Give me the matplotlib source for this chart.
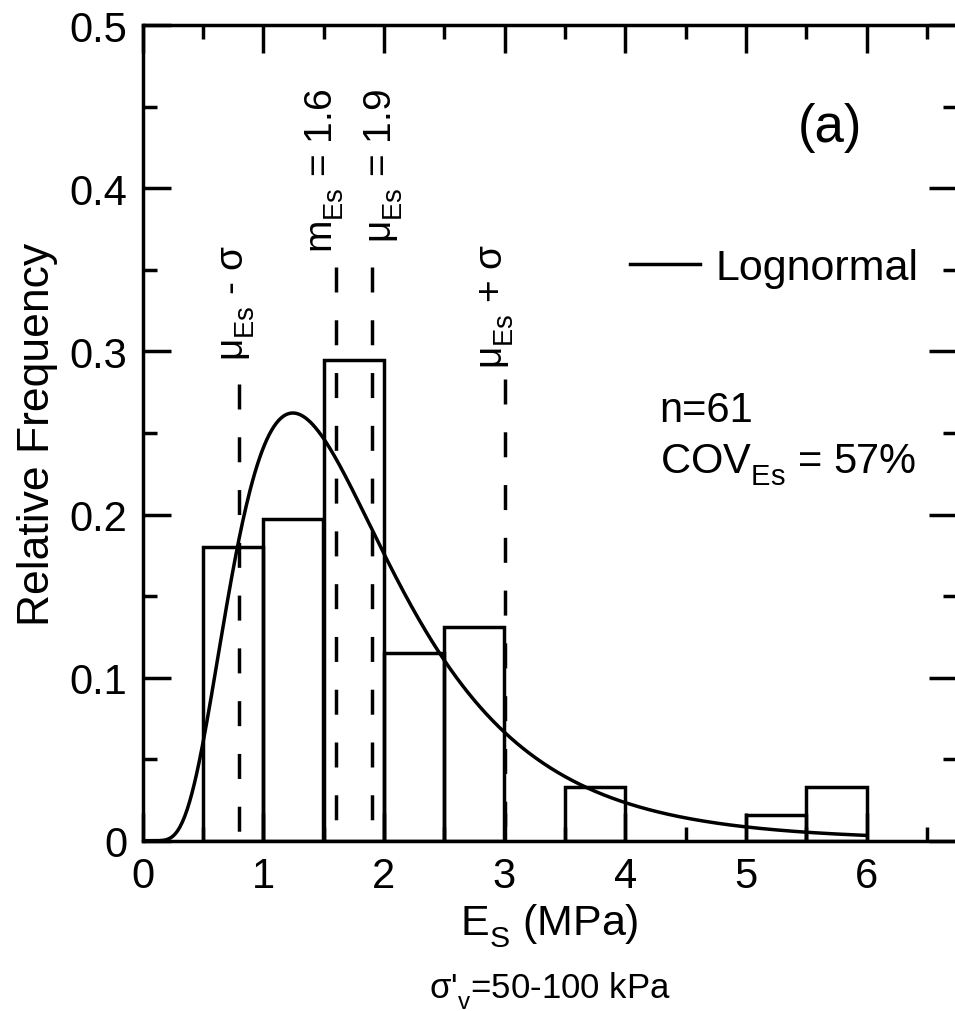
import numpy as np
import matplotlib
matplotlib.use("Agg")
import matplotlib.pyplot as plt
import matplotlib.transforms as mtransforms
from matplotlib.ticker import MultipleLocator, FuncFormatter

try:
    import matplotlib._mathtext as _mt
    _mt.FontConstantsBase.sub1 = 0.55
except Exception:
    pass

plt.rcParams['font.family'] = ['Liberation Sans', 'DejaVu Sans']

# ---- data ----
bin_left = [0.5, 1.0, 1.5, 2.0, 2.5, 3.5, 5.0, 5.5]
rel_freq = [0.180, 0.197, 0.295, 0.115, 0.131, 0.033, 0.016, 0.033]
bin_width = 0.5
mean_Es = 1.9      # MPa
cov_Es = 0.57
n_samples = 61
# vertical reference lines: (x, top of line)
ref_x = [0.8, 1.6, 1.9, 3.0]
ref_top = [0.28, 0.352, 0.352, 0.283]
ref_labels = ['μ$_\\mathregular{Es}$ - σ', 'm$_\\mathregular{Es}$ = 1.6',
              'μ$_\\mathregular{Es}$ = 1.9', 'μ$_\\mathregular{Es}$ + σ']
ref_label_x = [0.80, 1.51, 2.0, 2.94]
ref_label_y = [0.295, 0.361, 0.367, 0.29]

# lognormal fit from mean and COV
s2 = np.log(1 + cov_Es**2)
mu_ln = np.log(mean_Es) - s2 / 2
xs = np.linspace(0.01, 6.0, 600)
pdf = np.exp(-(np.log(xs) - mu_ln)**2 / (2 * s2)) / (xs * np.sqrt(2 * np.pi * s2))
curve = pdf * bin_width

fig = plt.figure(figsize=(9.55, 10.12), dpi=100)
ax = fig.add_axes([142.5/955, 1 - 841.7/1012, 814.5/955, 815.5/1012])

lw = 2.5
ax.bar(bin_left, rel_freq, width=bin_width, align='edge', fill=False,
       edgecolor='black', linewidth=lw, zorder=2)
ax.plot(xs, curve, color='black', linewidth=lw, zorder=3, label='Lognormal')

for x, top in zip(ref_x, ref_top):
    ax.plot([x, x], [top, 0], color='black', linewidth=lw,
            dashes=(18/lw, 20/lw), zorder=1)
for lab, x, y in zip(ref_labels, ref_label_x, ref_label_y):
    ax.text(x, y, lab, rotation=90, ha='center', va='bottom', fontsize=28)

ax.set_xlim(0, 6.75)
ax.set_ylim(0, 0.5)
ax.xaxis.set_major_locator(MultipleLocator(1))
ax.xaxis.set_minor_locator(MultipleLocator(0.5))
ax.yaxis.set_major_locator(MultipleLocator(0.1))
ax.yaxis.set_minor_locator(MultipleLocator(0.05))
ax.yaxis.set_major_formatter(FuncFormatter(
    lambda v, p: '0' if abs(v) < 1e-9 else f'{v:.1f}'))
ax.tick_params(which='both', direction='in', top=True, right=True,
               width=lw, labelsize=30, pad=11)
ax.tick_params(which='major', length=20)
ax.tick_params(which='minor', length=10)
for sp in ax.spines.values():
    sp.set_linewidth(lw)

ax.set_xlabel('E$_\\mathregular{S}$ (MPa)', fontsize=31, labelpad=4)
ax.set_ylabel('Relative Frequency', fontsize=32, labelpad=8)

fig.text(549.7/955, 1 - 998/1012, "σ'$_\\mathregular{v}$=50-100 kPa",
         ha='center', va='baseline', fontsize=25)

ax.text(0.844, 0.875, '(a)', transform=ax.transAxes, ha='center',
        va='center', fontsize=38)
blend = mtransforms.blended_transform_factory(ax.transAxes, ax.transData)
ax.text(0.635, 0.2573, f'n={n_samples}', ha='left', va='baseline',
        fontsize=30, transform=blend)
ax.text(0.635, 0.226, 'COV$_\\mathregular{Es}$ = %d%%' % round(cov_Es*100),
        ha='left', va='baseline', fontsize=30, transform=blend)

ax.legend(loc='center left', bbox_to_anchor=(0.5985, 0.702), frameon=False,
          fontsize=31, handlelength=1.63, handletextpad=0.35,
          borderpad=0, borderaxespad=0)

fig.savefig('out.png', dpi=100)
